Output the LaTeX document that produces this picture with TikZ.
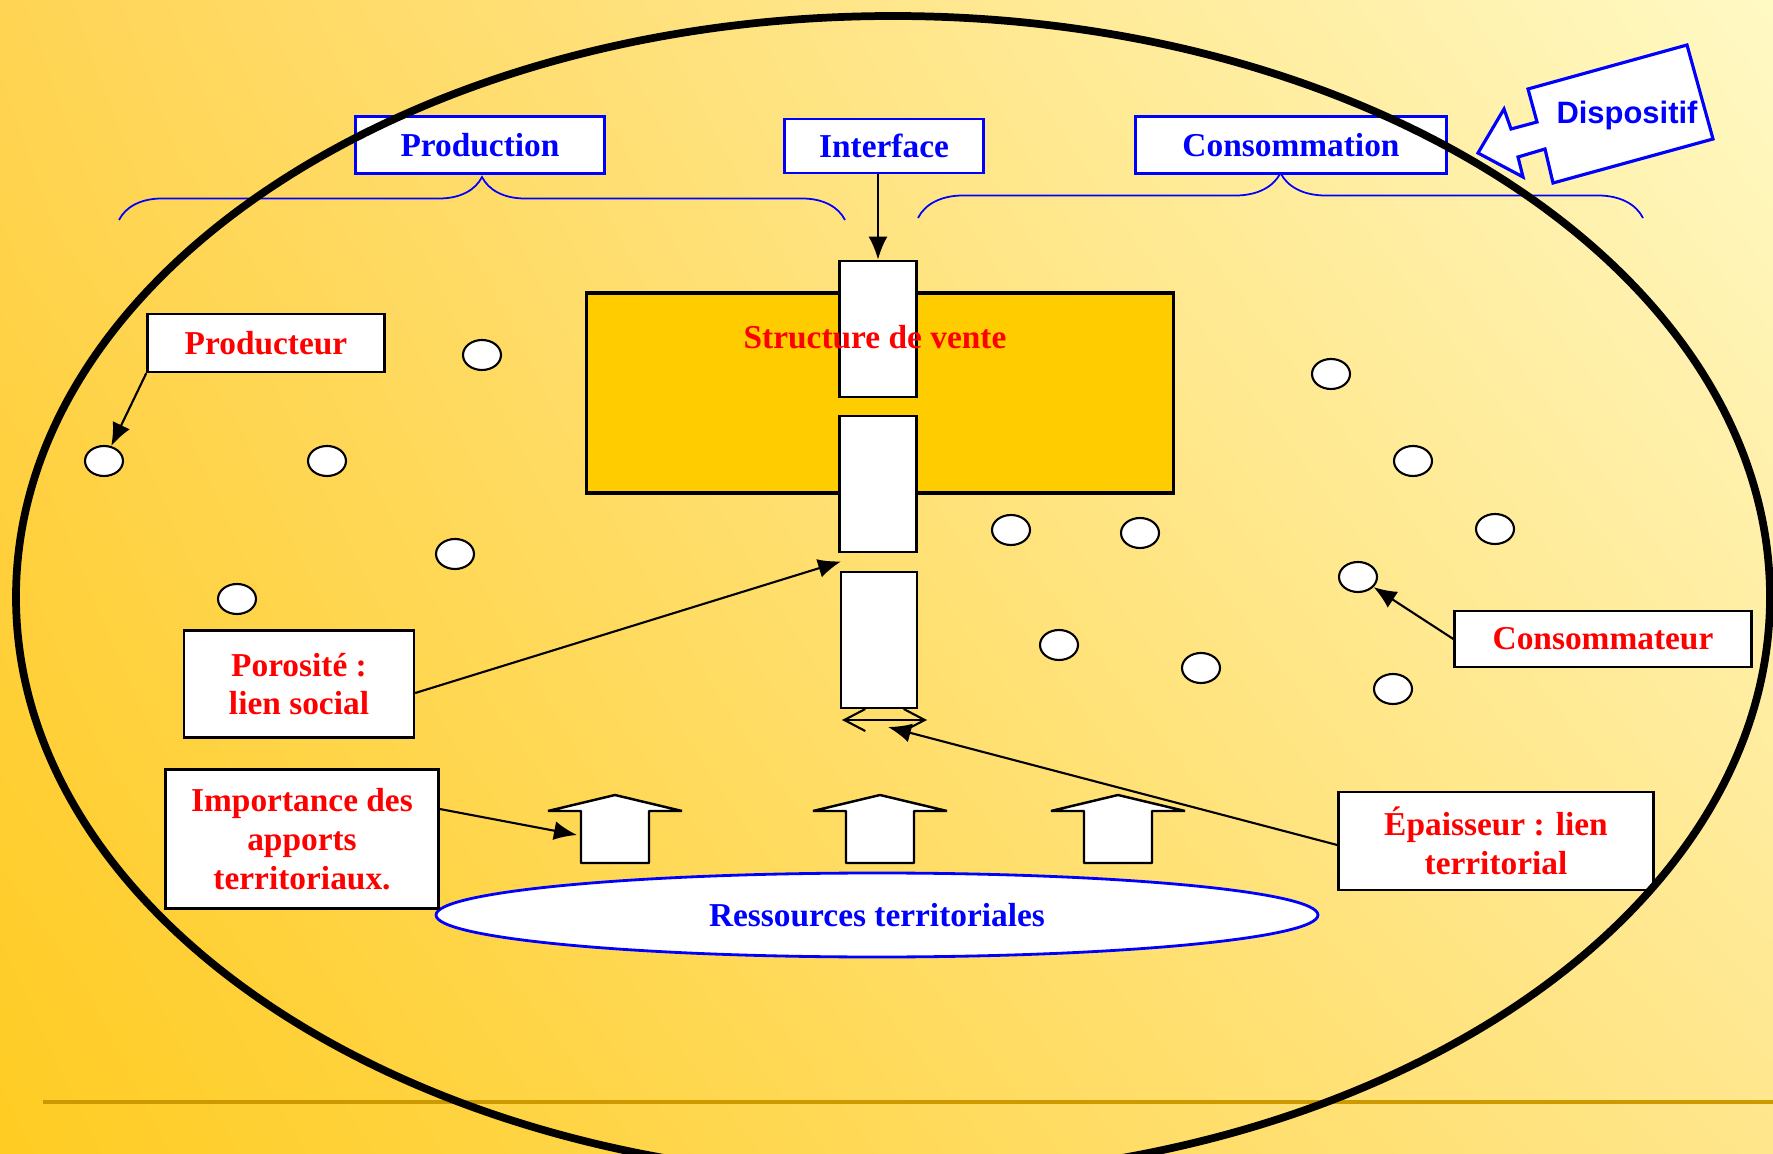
\documentclass[tikz,border=0pt]{standalone}
\usepackage{fontspec}
\setmainfont{Liberation Serif}
\newfontfamily\dispfont{Liberation Sans}
\usetikzlibrary{arrows.meta,shapes,shadings,decorations.pathreplacing}

\definecolor{bgdark}{RGB}{255,204,34}
\definecolor{bglight}{RGB}{255,249,196}
\definecolor{bgmidA}{RGB}{255,212,84}
\definecolor{bgmidB}{RGB}{255,230,140}
\definecolor{venteor}{RGB}{255,204,0}
\definecolor{goldline}{RGB}{204,153,0}

\begin{document}
\begin{tikzpicture}[x=0.1mm, y=-0.1mm, >={Latex[length=2.3mm,width=1.9mm]}]

\tikzset{
    bluebox/.style={
        draw=blue, fill=white, line width=0.6pt,
        text=blue, font=\fontsize{9.5}{11}\selectfont\bfseries
    },
    redbox/.style={
        draw=black, fill=white, line width=0.7pt, align=center,
        text=red, font=\fontsize{9.5}{11}\selectfont\bfseries
    },
    colbox/.style={
        draw, fill=white, line width=0.8pt,
        minimum width=7.7mm, minimum height=13.6mm
    },
    puce/.style={
        ellipse, draw, fill=white, line width=0.6pt, inner sep=0pt,
        minimum width=3.8mm, minimum height=3mm
    },
    accolade/.style={
        draw=blue, line width=0.5pt, decorate
    },
    blockarrow/.style={
        draw, fill=white, line width=0.7pt, line join=bevel
    }
}

\useasboundingbox (0,0) rectangle (1773,1154);
\clip (0,0) rectangle (1773,1154);
\shade[lower left=bgdark, upper right=bglight, upper left=bgmidA, lower right=bgmidB] (0,0) rectangle (1773,1154);
\draw[goldline, line width=0.45mm] (43,1102) -- (1773,1102);

% accolades
\draw[accolade, decoration={brace, amplitude=4.3mm}] (119,220) -- (845,220);
\draw[accolade, decoration={brace, amplitude=4.5mm}] (918,218) -- (1643,218);

% structure de vente
\node[draw, line width=1pt, fill=venteor, minimum width=58.7mm, minimum height=20mm] (vente) at (880,393) {};
\node[colbox] (col1) at (878,329) {};
\node[colbox] (col2) at (878,484) {};
\node[colbox, minimum width=7.6mm] (col3) at (879,640) {};
\node[text=red, font=\fontsize{9.5}{11}\selectfont\bfseries] (ventetxt) at (875,337) {Structure de vente};

% acteurs
\foreach \cx/\cy/\nm in {482/355/c1, 104/461/c2, 327/461/c3, 455/554/c4, 237/599/c5,
    1331/374/c6, 1413/461/c7, 1495/529/c8, 1358/577/c9, 1011/530/c10,
    1140/533/c11, 1059/645/c12, 1201/668/c13, 1393/689/c14}
    \node[puce] (\nm) at (\cx,\cy) {};

% fleches du bas
\foreach \bx/\nm in {615/up1, 880/up2, 1118/up3}{
    \draw[blockarrow] ({\bx-34},863) -- ({\bx-34},811) -- ({\bx-67},811) -- (\bx,795)
        -- ({\bx+67},811) -- ({\bx+34},811) -- ({\bx+34},863) -- cycle;
    \coordinate (\nm) at (\bx,835);
}

\node[ellipse, draw=blue, fill=white, line width=0.8pt, minimum width=88.2mm, minimum height=8.4mm,
    text=blue, font=\fontsize{9.5}{11}\selectfont\bfseries] (res) at (877,915) {Ressources territoriales};

% etiquettes
\node[redbox, minimum width=23.7mm, minimum height=5.8mm] (prod) at (266,343) {Producteur};
\node[redbox, minimum width=23mm, minimum height=10.7mm] (poro) at (299,684) {Porosité :\\lien social};
\node[redbox, minimum width=27.3mm, minimum height=13.9mm] (imp) at (302,839) {Importance des\\apports\\territoriaux.};
\node[redbox, minimum width=29.7mm, minimum height=5.6mm] (conso) at (1603,639) {Consommateur};
\node[redbox, minimum width=31.5mm, minimum height=9.8mm] (epa) at (1496,841) {Épaisseur : lien\\territorial};

\coordinate (dbl) at (885,720);
\draw[line width=0.6pt, {Straight Barb[length=2.1mm,width=2.2mm]}-{Straight Barb[length=2.1mm,width=2.2mm]}]
    ([xshift=-4.3mm]dbl) -- ([xshift=4.2mm]dbl);

\draw[->, line width=0.6pt] (prod.south west) -- (c2);
\draw[->, line width=0.6pt] ([yshift=-0.9mm]poro.east) -- ([xshift=0.3mm,yshift=-0.8mm]col2.south west);
\draw[->, line width=0.6pt] ([yshift=3mm]imp.east) -- ([xshift=-3.8mm]up1);
\draw[->, line width=0.6pt] (conso.west) -- ([xshift=1mm,yshift=-1.9mm]c9);
\draw[->, line width=0.6pt] ([yshift=-0.4mm]epa.west) -- ([xshift=0.3mm,yshift=-0.7mm]dbl);

% poles
\node[bluebox, minimum width=24.9mm, minimum height=5.7mm] (prodn) at (480,145) {Production};
\node[bluebox, minimum width=19.9mm, minimum height=5.4mm] (inter) at (884,146) {Interface};
\node[bluebox, minimum width=31.1mm, minimum height=5.7mm] (consn) at (1291,145) {Consommation};
\draw[->, line width=0.6pt] (col1.north |- inter.south) -- (col1.north);

% le dispositif
\draw[line width=2.2pt] (893,597) ellipse [x radius=877, y radius=581];
\draw[draw=blue, fill=white, line width=0.9pt, line join=miter]
    (1528,89) -- (1687,45) -- (1713,139) -- (1553,183) -- (1545,149) -- (1518,157)
    -- (1523,177) -- (1478,153) -- (1504,109) -- (1511,129) -- (1537,122) -- cycle;
\node[text=blue, font=\dispfont\fontsize{8.8}{10}\selectfont\bfseries] (disp) at (1627,116) {Dispositif};
\end{tikzpicture}
\end{document}
